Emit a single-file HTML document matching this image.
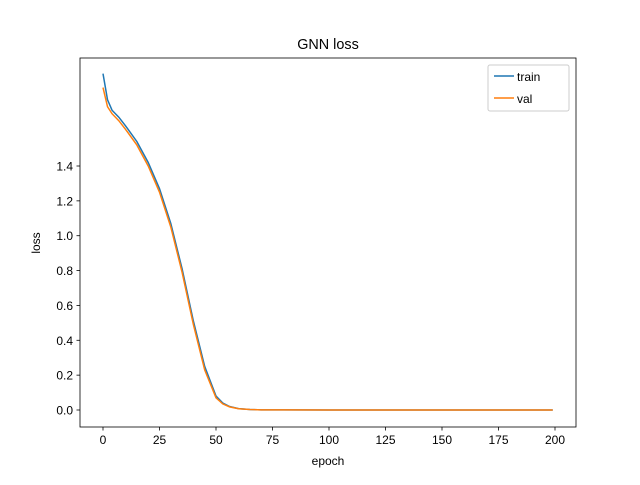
<!DOCTYPE html>
<html><head><meta charset="utf-8"><style>
body{margin:0;background:#fff;}
svg text{font-family:"Liberation Sans","DejaVu Sans",sans-serif;fill:#000;}
</style></head><body>
<svg id="chart" width="640" height="480" xmlns="http://www.w3.org/2000/svg">
<rect width="640" height="480" fill="#fff"/>
<text x="328" y="49" font-size="14.4" text-anchor="middle">GNN loss</text>
<g id="plot"></g>
<text x="328" y="465" font-size="12" text-anchor="middle">epoch</text>
<text x="40" y="243" font-size="12" text-anchor="middle" transform="rotate(-90 40 243)">loss</text>
<g>
<rect x="488" y="65" width="81" height="46" fill="#fff" stroke="#ccc" rx="2"/>
<line x1="494" y1="76" x2="514" y2="76" stroke="#1f77b4" stroke-width="1.5"/>
<text x="517" y="81" font-size="12">train</text>
<line x1="494" y1="98" x2="514" y2="98" stroke="#ff7f0e" stroke-width="1.5"/>
<text x="517" y="103" font-size="12">val</text>
</g>
</svg>
<script>
const epochs=[0,2,4,7,10,15,20,25,30,35,40,45,50,53,56,60,65,70,80,100,150,199];
const trainLoss=[1.93,1.78,1.72,1.68,1.63,1.54,1.42,1.27,1.07,0.81,0.51,0.25,0.08,0.04,0.02,0.008,0.003,0.001,0.0005,0.0002,0.0001,0.0001];
const valLoss=[1.85,1.74,1.70,1.66,1.61,1.52,1.40,1.25,1.05,0.79,0.49,0.23,0.07,0.035,0.018,0.007,0.003,0.001,0.0005,0.0002,0.0001,0.0001];
const xTicks=[0,25,50,75,100,125,150,175,200];
const yTicks=[0.0,0.2,0.4,0.6,0.8,1.0,1.2,1.4];
const L=80,R=576,T=58,B=427;
const xs=v=>103+v*(555-103)/200;
const ys=v=>410-v*(410-166)/1.4;
const NS="http://www.w3.org/2000/svg";
const g=document.getElementById('plot');
function mk(t,a){const e=document.createElementNS(NS,t);for(const k in a)e.setAttribute(k,a[k]);g.appendChild(e);return e;}
xTicks.forEach(v=>{
 const l=mk('line',{x1:xs(v),x2:xs(v),y1:B,y2:B+3.5,stroke:'#000','stroke-width':0.8});
 
 
 const t=mk('text',{x:xs(v),y:B+17,'font-size':12,'text-anchor':'middle'});t.textContent=v;
 
 
});
yTicks.forEach(v=>{
 const l=mk('line',{x1:L-3.5,x2:L,y1:ys(v),y2:ys(v),stroke:'#000','stroke-width':0.8});
 
 
 const t=mk('text',{x:L-7,y:ys(v)+4.5,'font-size':12,'text-anchor':'end'});t.textContent=v.toFixed(1);
 
 
});
function line(vals,color,name){
 const p=mk('polyline',{points:epochs.map((e,i)=>xs(e)+','+ys(vals[i])).join(' '),fill:'none',stroke:color,'stroke-width':1.5});
 
 
}
line(trainLoss,'#1f77b4','train-line');
line(valLoss,'#ff7f0e','val-line');
const fr=mk('rect',{x:L,y:T,width:R-L,height:B-T,fill:'none',stroke:'#000','stroke-width':0.8});


</script>
</body></html>
